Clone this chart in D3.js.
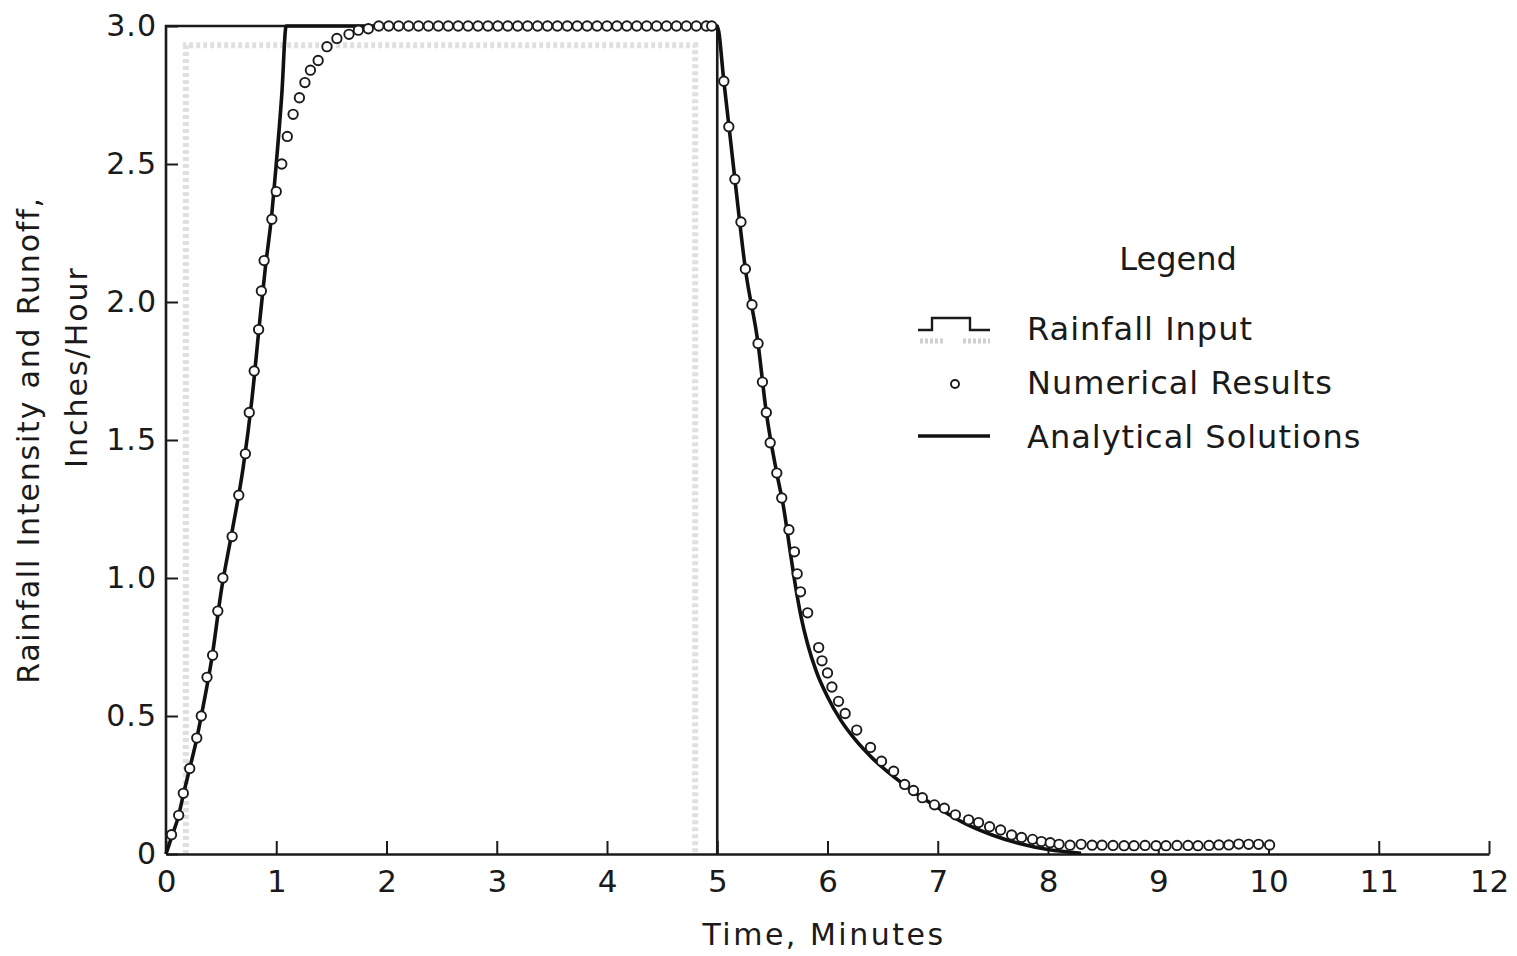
<!DOCTYPE html>
<html>
<head>
<meta charset="utf-8">
<script src="https://cdn.jsdelivr.net/npm/d3@7/dist/d3.min.js"></script>
<style>
  body { margin: 0; background: #fff; }
  text { font-family: "DejaVu Sans", sans-serif; fill: #1a1a1a; }
</style>
</head>
<body>
<div id="chartDiv"></div>
<script>

// rainfall input (step), minutes / inches per hour
var rainT = [0, 0, 5, 5];
var rainI = [0, 3.0, 3.0, 0];
// faint grey shadow of the rainfall block (scan)
var shadeT = [0.18, 0.18, 4.8, 4.8];
var shadeI = [0, 2.93, 2.93, 0];

// analytical solution
var anaT = [0, 0.05, 0.115, 0.16, 0.215, 0.28, 0.32, 0.42, 0.5, 0.6, 0.7, 0.78, 0.85, 0.9, 0.96, 1.0, 1.05, 1.09,
            5.0, 5.06, 5.16, 5.255, 5.37, 5.445, 5.54, 5.6, 5.66, 5.71, 5.76, 5.82, 5.9, 6.0, 6.12, 6.25, 6.4,
            6.6, 6.8, 7.0, 7.25, 7.5, 7.75, 8.0, 8.3];
var anaQ = [0, 0.06, 0.14, 0.22, 0.31, 0.42, 0.5, 0.72, 0.95, 1.17, 1.4, 1.65, 1.93, 2.12, 2.32, 2.5, 2.75, 3.0,
            3.0, 2.8, 2.445, 2.12, 1.85, 1.6, 1.38, 1.26, 1.1, 0.97, 0.86, 0.76, 0.66, 0.57, 0.485, 0.415, 0.35,
            0.28, 0.22, 0.168, 0.11, 0.068, 0.037, 0.016, 0.003];

// numerical results
var numT = [0.05, 0.115, 0.157, 0.215, 0.279, 0.32, 0.372, 0.423, 0.47, 0.516, 0.6, 0.66, 0.72, 0.755, 0.8, 0.84,
            0.865, 0.89, 0.96, 1.0, 1.05, 1.1, 1.153, 1.21, 1.26, 1.31, 1.38, 1.46, 1.55, 1.66, 1.745, 1.835,
            1.93, 2.02, 2.11, 2.2, 2.29, 2.38, 2.47, 2.56, 2.65, 2.74, 2.83, 2.92, 3.01, 3.1, 3.19, 3.28, 3.37,
            3.46, 3.55, 3.64, 3.73, 3.82, 3.91, 4.0, 4.09, 4.18, 4.27, 4.36, 4.45, 4.54, 4.63, 4.72, 4.81, 4.9, 4.95,
            5.06, 5.105, 5.16, 5.215, 5.255, 5.315, 5.37, 5.41, 5.445, 5.48, 5.54, 5.585, 5.65, 5.7, 5.725, 5.755,
            5.82, 5.92, 5.95, 6.0, 6.04, 6.1, 6.16, 6.265, 6.39, 6.49, 6.6, 6.7, 6.78, 6.86, 6.97, 7.06, 7.16,
            7.28, 7.37, 7.47, 7.57, 7.67, 7.76, 7.86, 7.94, 8.02, 8.1, 8.2, 8.3, 8.4, 8.49, 8.59, 8.69, 8.78,
            8.88, 8.98, 9.07, 9.17, 9.27, 9.36, 9.46, 9.55, 9.64, 9.73, 9.82, 9.91, 10.01];
var numQ = [0.07, 0.14, 0.22, 0.31, 0.42, 0.5, 0.64, 0.72, 0.88, 1.0, 1.15, 1.3, 1.45, 1.6, 1.75, 1.9,
            2.04, 2.15, 2.3, 2.4, 2.5, 2.6, 2.68, 2.74, 2.795, 2.84, 2.875, 2.925, 2.955, 2.97, 2.985, 2.99,
            3.0, 3.0, 3.0, 3.0, 3.0, 3.0, 3.0, 3.0, 3.0, 3.0, 3.0, 3.0, 3.0, 3.0, 3.0, 3.0, 3.0,
            3.0, 3.0, 3.0, 3.0, 3.0, 3.0, 3.0, 3.0, 3.0, 3.0, 3.0, 3.0, 3.0, 3.0, 3.0, 3.0, 3.0, 3.0,
            2.8, 2.635, 2.445, 2.29, 2.12, 1.99, 1.85, 1.71, 1.6, 1.49, 1.38, 1.29, 1.175, 1.095, 1.015, 0.95,
            0.874, 0.748, 0.7, 0.656, 0.605, 0.553, 0.509, 0.449, 0.386, 0.336, 0.3, 0.252, 0.23, 0.204, 0.178, 0.166, 0.142,
            0.124, 0.114, 0.099, 0.087, 0.069, 0.06, 0.053, 0.045, 0.041, 0.035, 0.032, 0.035, 0.032, 0.032, 0.031, 0.03, 0.03,
            0.031, 0.03, 0.03, 0.031, 0.031, 0.03, 0.031, 0.033, 0.033, 0.036, 0.035, 0.035, 0.033];

var xTicks = [0, 1, 2, 3, 4, 5, 6, 7, 8, 9, 10, 11, 12];
var yTicks = [0, 0.5, 1.0, 1.5, 2.0, 2.5, 3.0];
var legendLabels = ["Rainfall Input", "Numerical Results", "Analytical Solutions"];

var svg = d3.select("#chartDiv").append("svg")
    .attr("width", 1517)
    .attr("height", 956);

var x_scale = d3.scaleLinear().domain([0, 12]).range([166, 1489]);
var y_scale = d3.scaleLinear().domain([0, 3]).range([854, 26]);

function pts(ts, vs) {
  return ts.map(function(t, i) { return [t, vs[i]]; });
}

var stepLine = d3.line()
    .x(function(d) { return x_scale(d[0]); })
    .y(function(d) { return y_scale(d[1]); });

var smoothLine = d3.line()
    .x(function(d) { return x_scale(d[0]); })
    .y(function(d) { return y_scale(d[1]); })
    .curve(d3.curveMonotoneX);

// grey shadow band
svg.append("path")
    .attr("d", stepLine(pts(shadeT, shadeI)))
    .attr("fill", "none")
    .attr("stroke", "#e0e0e0")
    .attr("stroke-width", 6)
    .attr("stroke-dasharray", "4 3");

// axes
var xAxis = d3.axisBottom(x_scale).tickValues(xTicks).tickSize(-13).tickSizeOuter(0).tickPadding(16)
    .tickFormat(function(d) { return d; });
var yAxis = d3.axisLeft(y_scale).tickValues(yTicks).tickSize(-12).tickSizeOuter(0).tickPadding(9)
    .tickFormat(function(d) { return d === 0 ? "0" : d3.format(".1f")(d); });

var xGroup = svg.append("g").attr("transform", "translate(0," + y_scale(0) + ")").call(xAxis);
var yGroup = svg.append("g").attr("transform", "translate(" + x_scale(0) + ",0)").call(yAxis);

xGroup.select(".domain").attr("stroke", "#1a1a1a").attr("stroke-width", 2.4);
yGroup.select(".domain").attr("stroke", "none");
xGroup.selectAll(".tick line").attr("stroke", "#1a1a1a").attr("stroke-width", 2);
yGroup.selectAll(".tick line").attr("stroke", "#1a1a1a").attr("stroke-width", 2);
xGroup.selectAll(".tick text").style("font-size", "31px").attr("fill", "#1a1a1a");
yGroup.selectAll(".tick text").style("font-size", "30px").style("letter-spacing", "1px").attr("fill", "#1a1a1a");

// rainfall input
svg.append("path")
    .attr("d", stepLine(pts(rainT, rainI)))
    .attr("fill", "none")
    .attr("stroke", "#1a1a1a")
    .attr("stroke-width", 2.6);

// analytical
svg.append("path")
    .attr("d", smoothLine(pts(anaT, anaQ)))
    .attr("fill", "none")
    .attr("stroke", "#111")
    .attr("stroke-width", 3.6)
    .attr("stroke-linejoin", "round");

// numerical
svg.append("g").selectAll("circle").data(pts(numT, numQ)).enter()
    .append("circle")
    .attr("cx", function(d) { return x_scale(d[0]); })
    .attr("cy", function(d) { return y_scale(d[1]); })
    .attr("r", 4.7)
    .attr("fill", "#fff")
    .attr("stroke", "#1a1a1a")
    .attr("stroke-width", 1.9);

// axis titles
svg.append("text")
    .attr("x", 824).attr("y", 945)
    .attr("text-anchor", "middle")
    .style("font-size", "30px").style("letter-spacing", "2.5px")
    .text("Time, Minutes");

svg.append("text")
    .attr("transform", "translate(39,440) rotate(-90)")
    .attr("text-anchor", "middle")
    .style("font-size", "30px").style("letter-spacing", "1.8px")
    .text("Rainfall Intensity and Runoff,");

svg.append("text")
    .attr("transform", "translate(87,367) rotate(-90)")
    .attr("text-anchor", "middle")
    .style("font-size", "30px").style("letter-spacing", "2px")
    .text("Inches/Hour");

// legend
var legend = svg.append("g").attr("class", "legend");

legend.append("text")
    .attr("x", 1178).attr("y", 270)
    .attr("text-anchor", "middle")
    .style("font-size", "32px")
    .text("Legend");

legend.selectAll(".legend_label").data(legendLabels).enter()
    .append("text").attr("class", "legend_label")
    .attr("x", 1027)
    .attr("y", function(d, i) { return 340 + i * 54; })
    .style("font-size", "32px").style("letter-spacing", "1px")
    .text(function(d) { return d; });

legend.append("path")
    .attr("d", "M920,341 h25 M963,341 h27")
    .attr("stroke", "#d0d0d0").attr("stroke-width", 5).attr("stroke-dasharray", "3 2");
legend.append("path")
    .attr("d", "M918,330 H932 V318 H970 V330 H990")
    .attr("fill", "none").attr("stroke", "#1a1a1a").attr("stroke-width", 2.4);
legend.append("circle")
    .attr("cx", 955).attr("cy", 384).attr("r", 4)
    .attr("fill", "#fff").attr("stroke", "#1a1a1a").attr("stroke-width", 1.9);
legend.append("line")
    .attr("x1", 918).attr("x2", 990).attr("y1", 436).attr("y2", 436)
    .attr("stroke", "#111").attr("stroke-width", 3.6);

</script>
</body>
</html>
